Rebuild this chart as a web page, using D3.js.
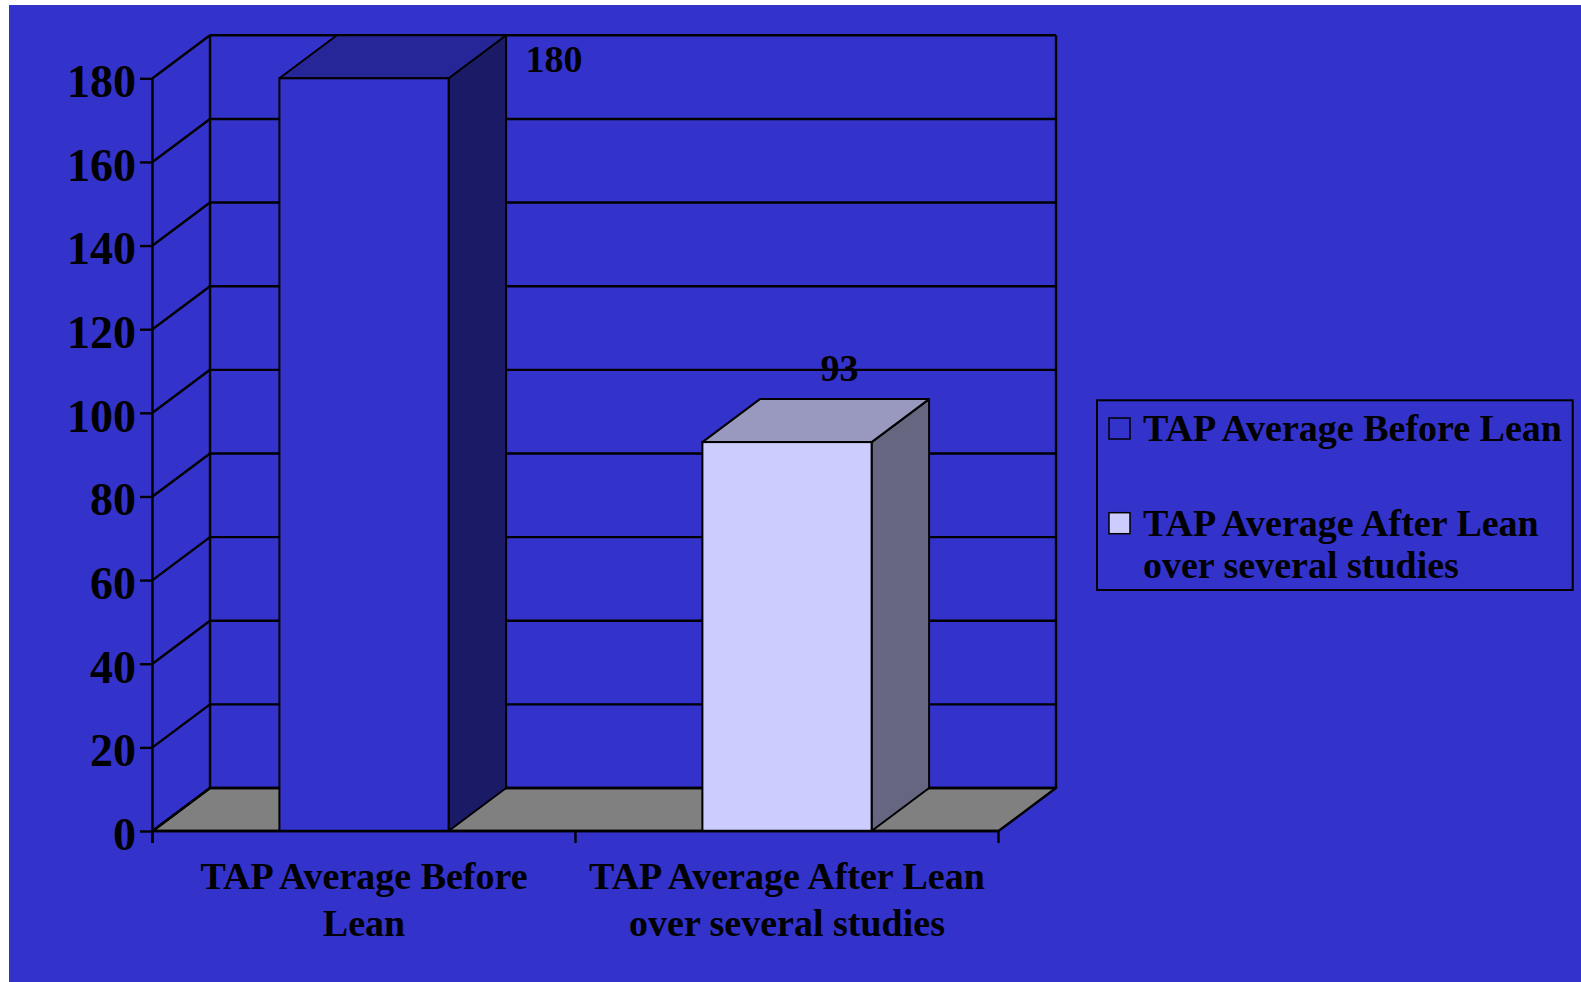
<!DOCTYPE html>
<html>
<head>
<meta charset="utf-8">
<script src="https://cdn.jsdelivr.net/npm/d3@7"></script>
<style>
  html, body { margin: 0; padding: 0; background: #ffffff; }
  svg { display: block; }
  text { font-family: "Liberation Serif", "Times New Roman", serif; font-weight: bold; fill: #000; }
</style>
</head>
<body>
<svg id="chart" width="1581" height="982"></svg>
<script>
// ---- data ----
const categories = ["TAP Average Before Lean", "TAP Average After Lean over several studies"];
const values = [180, 93];
const seriesNames = ["TAP Average Before Lean", "TAP Average After Lean over several studies"];
const barColors = ["#3333CC", "#CCCCFF"];
const yTicks = [0, 20, 40, 60, 80, 100, 120, 140, 160, 180];

// ---- layout ----
const W = 1581, H = 982;
const bg = "#3333CC";
const plotLeft = 152.5, plotRight = 998.5;
const yBottom = 831, yTop = 78.3;
const dx = 57.5, dy = 43;
const fs = 38;

const svg = d3.select("#chart");
svg.append("rect").attr("x", 0).attr("y", 0).attr("width", W).attr("height", H).attr("fill", "#ffffff");
svg.append("rect").attr("x", 9).attr("y", 5).attr("width", W - 9).attr("height", H - 5).attr("fill", bg);

const x = d3.scaleBand().domain(categories).range([plotLeft, plotRight]).paddingInner(0.6).paddingOuter(0.3);
const y = d3.scaleLinear().domain([0, 180]).range([yBottom, yTop]);

function shade(c, k) {
  const r = d3.rgb(c);
  return d3.rgb(Math.round(r.r * k), Math.round(r.g * k), Math.round(r.b * k)).formatHex();
}

const g = svg.append("g");
const lineW = 2.4;
const barW = 2;

// floor
g.append("polygon")
  .attr("points", [[plotLeft, y(0)], [plotLeft + dx, y(0) - dy], [plotRight + dx, y(0) - dy], [plotRight, y(0)]].map(p => p.join(",")).join(" "))
  .attr("fill", "#808080").attr("stroke", "#000").attr("stroke-width", lineW).attr("stroke-linejoin", "round");

// back wall gridlines
g.selectAll("line.grid").data(yTicks).enter().append("line")
  .attr("x1", plotLeft + dx).attr("x2", plotRight + dx)
  .attr("y1", d => y(d) - dy).attr("y2", d => y(d) - dy)
  .attr("stroke", "#000").attr("stroke-width", lineW);

// left wall diagonals
g.selectAll("line.diag").data(yTicks).enter().append("line")
  .attr("x1", plotLeft).attr("y1", d => y(d))
  .attr("x2", plotLeft + dx).attr("y2", d => y(d) - dy)
  .attr("stroke", "#000").attr("stroke-width", lineW);

// wall verticals
[plotLeft + dx, plotRight + dx].forEach(xx => {
  g.append("line").attr("x1", xx).attr("x2", xx).attr("y1", y(180) - dy).attr("y2", y(0) - dy)
    .attr("stroke", "#000").attr("stroke-width", lineW);
});

// bars
const bw = x.bandwidth();
categories.forEach((c, i) => {
  const v = values[i];
  const x0 = x(c), x1 = x(c) + bw, yv = y(v), y0 = y(0);
  const col = barColors[i];
  const bg_ = g.append("g");
  // side
  bg_.append("polygon")
    .attr("points", [[x1, y0], [x1 + dx, y0 - dy], [x1 + dx, yv - dy], [x1, yv]].map(p => p.join(",")).join(" "))
    .attr("fill", shade(col, 0.5)).attr("stroke", "#000").attr("stroke-width", barW).attr("stroke-linejoin", "round");
  // top
  bg_.append("polygon")
    .attr("points", [[x0, yv], [x0 + dx, yv - dy], [x1 + dx, yv - dy], [x1, yv]].map(p => p.join(",")).join(" "))
    .attr("fill", shade(col, 0.75)).attr("stroke", "#000").attr("stroke-width", barW).attr("stroke-linejoin", "round");
  // front
  bg_.append("rect")
    .attr("x", x0).attr("y", yv).attr("width", bw).attr("height", y0 - yv)
    .attr("fill", col).attr("stroke", "#000").attr("stroke-width", barW);

  // data label
  let lx = x0 + bw / 2 + dx - 5, ly = yv - dy - 18;
  if (ly < y(180) - dy + 10) { lx = x1 + dx + 48; ly = yv - 6.6; }
  g.append("text").attr("x", lx).attr("y", ly).attr("text-anchor", "middle")
    .attr("font-size", fs).text(v);
});

// front left vertical axis line
g.append("line").attr("x1", plotLeft).attr("x2", plotLeft).attr("y1", y(180)).attr("y2", y(0) + 12)
  .attr("stroke", "#000").attr("stroke-width", lineW);
// x axis baseline
g.append("line").attr("x1", plotLeft).attr("x2", plotRight).attr("y1", y(0)).attr("y2", y(0))
  .attr("stroke", "#000").attr("stroke-width", lineW);
// x ticks at category boundaries
const bounds = d3.range(categories.length + 1).map(i => plotLeft + i * (plotRight - plotLeft) / categories.length);
g.selectAll("line.xt").data(bounds).enter().append("line")
  .attr("x1", d => d).attr("x2", d => d).attr("y1", y(0)).attr("y2", y(0) + 12)
  .attr("stroke", "#000").attr("stroke-width", lineW);

// y axis
const yAxis = d3.axisLeft(y).tickValues(yTicks).tickSize(12.5).tickPadding(4).tickFormat(d3.format("d"));
const ya = svg.append("g").attr("transform", `translate(${plotLeft},0)`).call(yAxis);
ya.select(".domain").remove();
ya.selectAll(".tick line").attr("stroke", "#000").attr("stroke-width", lineW);
ya.selectAll(".tick text").attr("font-size", 46).attr("dy", "0.4em")
  .attr("font-family", "'Liberation Serif', 'Times New Roman', serif").attr("font-weight", "bold").attr("fill", "#000");

// wrap helper
function wrapText(sel, text, maxW, lineH) {
  const words = text.split(" ");
  let line = [], lines = [];
  const probe = sel.append("tspan");
  words.forEach(w => {
    const test = line.concat([w]).join(" ");
    probe.text(test);
    if (probe.node().getComputedTextLength() > maxW && line.length) {
      lines.push(line.join(" "));
      line = [w];
    } else line.push(w);
  });
  lines.push(line.join(" "));
  probe.remove();
  const xAttr = sel.attr("x");
  lines.forEach((l, i) => {
    sel.append("tspan").attr("x", xAttr).attr("dy", i === 0 ? 0 : lineH).text(l);
  });
}

// category labels
categories.forEach(c => {
  const t = svg.append("text").attr("x", x(c) + bw / 2).attr("y", y(0) + 58)
    .attr("text-anchor", "middle").attr("font-size", fs);
  wrapText(t, c, 402, 47);
});

// legend
const leg = svg.append("g");
const lgX = 1097, lgY = 400.3, lgW = 475.7, lgH = 189.7;
leg.append("rect").attr("x", lgX).attr("y", lgY).attr("width", lgW).attr("height", lgH)
  .attr("fill", "none").attr("stroke", "#000").attr("stroke-width", 2);
const entryY = [441, 535.7];
seriesNames.forEach((s, i) => {
  leg.append("rect").attr("x", lgX + 12).attr("y", entryY[i] - 23).attr("width", 21).attr("height", 21)
    .attr("fill", barColors[i]).attr("stroke", "#000").attr("stroke-width", 1.5);
  const t = leg.append("text").attr("x", lgX + 46).attr("y", entryY[i]).attr("font-size", fs);
  wrapText(t, s, 425, 42.3);
});
</script>
</body>
</html>
